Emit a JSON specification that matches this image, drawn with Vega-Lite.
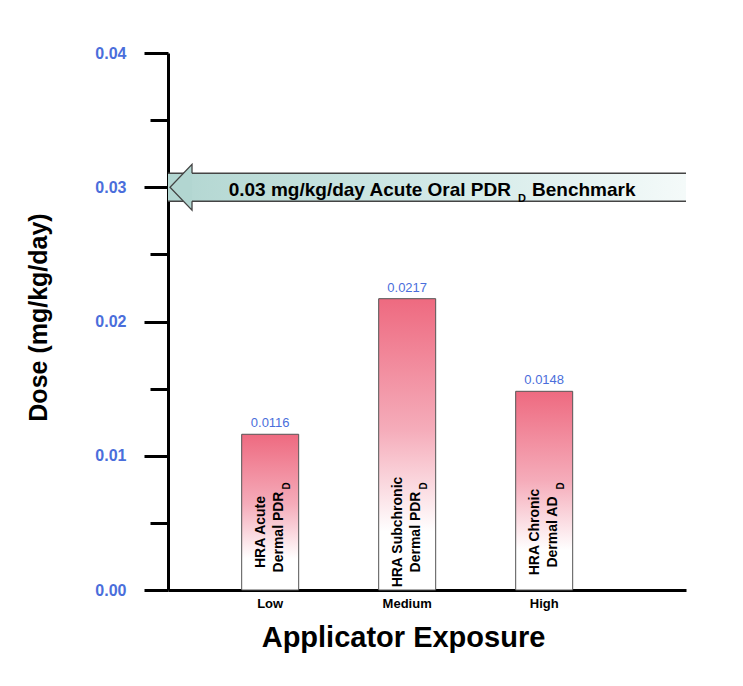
{
  "$schema": "https://vega.github.io/schema/vega-lite/v6.json",
  "width": 518,
  "height": 537,
  "autosize": "none",
  "padding": {"left": 168, "top": 53, "right": 57, "bottom": 96},
  "background": "white",
  "config": {
    "view": {"stroke": null},
    "font": "Liberation Sans",
    "axis": {"labelFont": "Liberation Sans", "titleFont": "Liberation Sans", "grid": false}
  },
  "datasets": {
    "doses": [
      {"exposure": "Low", "dose": 0.0116, "desc": "HRA Acute\nDermal PDR", "sub": "D"},
      {"exposure": "Medium", "dose": 0.0217, "desc": "HRA Subchronic\nDermal PDR", "sub": "D"},
      {"exposure": "High", "dose": 0.0148, "desc": "HRA Chronic\nDermal AD", "sub": "D"}
    ],
    "benchmark": [
      {"benchmark": 0.03, "label": "0.03 mg/kg/day Acute Oral PDR", "sub": "D", "suffix": "Benchmark"}
    ]
  },
  "resolve": {"axis": {"y": "independent"}},
  "layer": [
    {
      "data": {"name": "doses"},
      "mark": {
        "type": "bar",
        "fill": {
          "gradient": "linear", "x1": 0, "y1": 0, "x2": 0, "y2": 1,
          "stops": [
            {"offset": 0, "color": "#ee6a80"},
            {"offset": 0.45, "color": "#f5acba"},
            {"offset": 0.8, "color": "#ffffff"},
            {"offset": 1, "color": "#ffffff"}
          ]
        },
        "stroke": "#555555",
        "strokeWidth": 1
      },
      "encoding": {
        "x": {
          "field": "exposure", "type": "nominal", "sort": ["Low", "Medium", "High"],
          "scale": {"paddingInner": 0.584, "paddingOuter": 0.6825, "align": 0.394},
          "axis": {
            "title": "Applicator Exposure",
            "orient": "bottom",
            "labelAngle": 0,
            "labelFontWeight": "bold",
            "labelFontSize": 13,
            "labelColor": "black",
            "labelPadding": 7,
            "ticks": false,
            "domainColor": "black",
            "domainWidth": 3,
            "titleFontSize": 29,
            "titleFontWeight": "bold",
            "titleColor": "black",
            "titleX": 235,
            "titleY": 56,
            "titleAlign": "center",
            "titleBaseline": "alphabetic"
          }
        },
        "y": {
          "field": "dose", "type": "quantitative",
          "scale": {"domain": [0, 0.04], "nice": false, "zero": true},
          "axis": {
            "orient": "left",
            "title": "Dose (mg/kg/day)",
            "values": [0, 0.01, 0.02, 0.03, 0.04],
            "format": ".2f",
            "labelColor": "#4a6edb",
            "labelFontSize": 16,
            "labelFontWeight": "bold",
            "labelPadding": 18,
            "tickSize": 24,
            "tickWidth": 3,
            "tickColor": "black",
            "domainColor": "black",
            "domainWidth": 3,
            "titleFontSize": 25,
            "titleFontWeight": "bold",
            "titleColor": "black",
            "titleAngle": 270,
            "titleX": -130,
            "titleY": 264,
            "titleAlign": "center",
            "titleBaseline": "middle"
          }
        }
      }
    },
    {
      "data": {"name": "doses"},
      "mark": {"type": "text", "dy": -11, "baseline": "middle", "fontSize": 13, "color": "#4a6edb"},
      "encoding": {
        "x": {"field": "exposure", "type": "nominal", "sort": ["Low", "Medium", "High"]},
        "y": {
          "field": "dose", "type": "quantitative",
          "axis": {
            "orient": "left",
            "title": null,
            "values": [0.005, 0.015, 0.025, 0.035],
            "labels": false,
            "domain": false,
            "tickSize": 18,
            "tickWidth": 3,
            "tickColor": "black"
          }
        },
        "text": {"field": "dose", "format": ".4f"}
      }
    },
    {
      "data": {"name": "doses"},
      "mark": {
        "type": "text", "angle": 270, "align": "center", "baseline": "middle",
        "dx": 58, "dy": -9, "fontSize": 14, "fontWeight": "bold", "lineBreak": "\n", "lineHeight": 18, "color": "black"
      },
      "encoding": {
        "x": {"field": "exposure", "type": "nominal", "sort": ["Low", "Medium", "High"]},
        "y": {"datum": 0, "type": "quantitative", "axis": null},
        "text": {"field": "desc"}
      }
    },
    {
      "data": {"name": "doses"},
      "mark": {
        "type": "text", "angle": 270, "align": "center", "baseline": "middle",
        "dx": 104, "dy": 17, "fontSize": 10, "fontWeight": "bold", "color": "black"
      },
      "encoding": {
        "x": {"field": "exposure", "type": "nominal", "sort": ["Low", "Medium", "High"]},
        "y": {"datum": 0, "type": "quantitative", "axis": null},
        "text": {"field": "sub"}
      }
    },
    {
      "data": {"name": "benchmark"},
      "mark": {
        "type": "rect",
        "clip": true,
        "fill": {
          "gradient": "linear", "x1": 0, "y1": 0, "x2": 1, "y2": 0,
          "stops": [
            {"offset": 0, "color": "#b2d6d1"},
            {"offset": 0.55, "color": "#d5ebe9"},
            {"offset": 0.95, "color": "#f4faf9"},
            {"offset": 1, "color": "#f7fbfb"}
          ]
        },
        "yOffset": -14, "y2Offset": 14, "xOffset": 24
      },
      "encoding": {
        "y": {"field": "benchmark", "type": "quantitative", "axis": null},
        "y2": {"field": "benchmark"}
      }
    },
    {
      "data": {"name": "benchmark"},
      "mark": {"type": "rule", "clip": true, "color": "#444444", "strokeWidth": 1.5, "yOffset": -14, "xOffset": 24},
      "encoding": {"y": {"field": "benchmark", "type": "quantitative", "axis": null}}
    },
    {
      "data": {"name": "benchmark"},
      "mark": {"type": "rule", "clip": true, "color": "#444444", "strokeWidth": 1.5, "yOffset": 14, "xOffset": 24},
      "encoding": {"y": {"field": "benchmark", "type": "quantitative", "axis": null}}
    },
    {
      "data": {"name": "benchmark"},
      "mark": {
        "type": "point",
        "shape": "M 0.957 -0.609 L 0.957 -1 L 0 0 L 0.957 1 L 0.957 0.609",
        "size": 2116, "filled": true, "fill": "#b2d6d1", "stroke": "#444444", "strokeWidth": 1.3,
        "opacity": 1, "fillOpacity": 1, "strokeOpacity": 1
      },
      "encoding": {
        "x": {"value": 2},
        "y": {"field": "benchmark", "type": "quantitative", "axis": null}
      }
    },
    {
      "data": {"name": "benchmark"},
      "mark": {"type": "text", "align": "right", "baseline": "alphabetic", "dx": 84, "dy": 9, "fontSize": 19, "fontWeight": "bold", "color": "black"},
      "encoding": {
        "y": {"field": "benchmark", "type": "quantitative", "axis": null},
        "text": {"field": "label"}
      }
    },
    {
      "data": {"name": "benchmark"},
      "mark": {"type": "text", "align": "center", "baseline": "alphabetic", "dx": 95, "dy": 15, "fontSize": 11, "fontWeight": "bold", "color": "black"},
      "encoding": {
        "y": {"field": "benchmark", "type": "quantitative", "axis": null},
        "text": {"field": "sub"}
      }
    },
    {
      "data": {"name": "benchmark"},
      "mark": {"type": "text", "align": "left", "baseline": "alphabetic", "dx": 105, "dy": 9, "fontSize": 19, "fontWeight": "bold", "color": "black"},
      "encoding": {
        "y": {"field": "benchmark", "type": "quantitative", "axis": null},
        "text": {"field": "suffix"}
      }
    }
  ]
}
